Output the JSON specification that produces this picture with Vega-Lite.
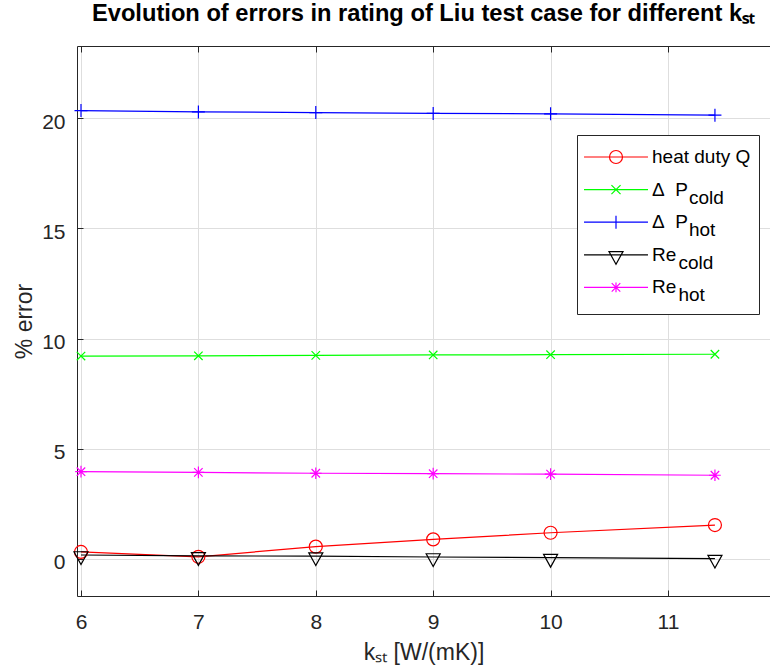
{
  "$schema": "https://vega.github.io/schema/vega-lite/v6.json",
  "width": 693,
  "height": 550,
  "autosize": {"type": "none"},
  "padding": {"left": 77, "top": 46, "right": 0, "bottom": 75},
  "background": "white",
  "title": {
    "text": "Evolution of errors in rating of Liu test case for different kₛₜ",
    "font": "Liberation Sans",
    "fontSize": 23.7,
    "fontWeight": "bold",
    "color": "#000000",
    "anchor": "middle",
    "baseline": "alphabetic",
    "offset": 1
  },
  "config": {
    "view": {"stroke": null},
    "axis": {
      "labelFont": "Liberation Sans",
      "labelFontSize": 21,
      "labelColor": "#262626",
      "titleFont": "Liberation Sans",
      "titleFontSize": 23,
      "titleFontWeight": "normal",
      "titleColor": "#262626",
      "domainColor": "#262626",
      "domainWidth": 1,
      "tickColor": "#262626",
      "tickWidth": 1,
      "tickSize": -6,
      "gridColor": "#dedede",
      "gridWidth": 1
    }
  },
  "data": {
    "values": [
      {"k": 6, "error": 0.32, "series": "heat duty Q"},
      {"k": 7, "error": 0.10, "series": "heat duty Q"},
      {"k": 8, "error": 0.56, "series": "heat duty Q"},
      {"k": 9, "error": 0.89, "series": "heat duty Q"},
      {"k": 10, "error": 1.19, "series": "heat duty Q"},
      {"k": 11.4, "error": 1.54, "series": "heat duty Q"},
      {"k": 6, "error": 9.21, "series": "Δ P cold"},
      {"k": 7, "error": 9.22, "series": "Δ P cold"},
      {"k": 8, "error": 9.24, "series": "Δ P cold"},
      {"k": 9, "error": 9.26, "series": "Δ P cold"},
      {"k": 10, "error": 9.27, "series": "Δ P cold"},
      {"k": 11.4, "error": 9.29, "series": "Δ P cold"},
      {"k": 6, "error": 20.35, "series": "Δ P hot"},
      {"k": 7, "error": 20.29, "series": "Δ P hot"},
      {"k": 8, "error": 20.26, "series": "Δ P hot"},
      {"k": 9, "error": 20.22, "series": "Δ P hot"},
      {"k": 10, "error": 20.2, "series": "Δ P hot"},
      {"k": 11.4, "error": 20.14, "series": "Δ P hot"},
      {"k": 6, "error": 0.18, "series": "Re cold"},
      {"k": 7, "error": 0.14, "series": "Re cold"},
      {"k": 8, "error": 0.13, "series": "Re cold"},
      {"k": 9, "error": 0.09, "series": "Re cold"},
      {"k": 10, "error": 0.06, "series": "Re cold"},
      {"k": 11.4, "error": 0.02, "series": "Re cold"},
      {"k": 6, "error": 3.96, "series": "Re hot"},
      {"k": 7, "error": 3.93, "series": "Re hot"},
      {"k": 8, "error": 3.89, "series": "Re hot"},
      {"k": 9, "error": 3.87, "series": "Re hot"},
      {"k": 10, "error": 3.85, "series": "Re hot"},
      {"k": 11.4, "error": 3.8, "series": "Re hot"}
    ]
  },
  "encoding": {
    "y": {
      "field": "error",
      "type": "quantitative",
      "scale": {"domain": [-1.68, 23.28], "nice": false, "zero": false},
      "axis": {
        "title": "% error",
        "values": [0, 5, 10, 15, 20],
        "format": "d",
        "grid": true,
        "labelPadding": 18,
        "labelOffset": 4,
        "titlePadding": 5
      }
    },
    "color": {
      "field": "series",
      "type": "nominal",
      "scale": {
        "domain": ["heat duty Q", "Δ P cold", "Δ P hot", "Re cold", "Re hot"],
        "range": ["#ff0000", "#00ff00", "#0000ff", "#000000", "#ff00ff"]
      },
      "legend": {
        "orient": "none",
        "legendX": 500,
        "legendY": 89,
        "title": null,
        "padding": 8,
        "strokeColor": "#262626",
        "fillColor": "#ffffff",
        "symbolSize": 676,
        "symbolOffset": 17,
        "symbolStrokeWidth": 1.2,
        "labelOffset": 22,
        "rowPadding": 0.6,
        "labelFont": "Liberation Sans",
        "labelFontSize": 19,
        "labelColor": "#000000",
        "labelLimit": 0,
        "labelExpr": "datum.value === 'heat duty Q' ? ['heat duty Q', '\u200b'] : datum.value === 'Δ P cold' ? ['Δ\u00a0\u00a0P', '\u200b\u00a0\u00a0\u00a0\u00a0\u00a0\u00a0\u00a0cold'] : datum.value === 'Δ P hot' ? ['Δ\u00a0\u00a0P', '\u200b\u00a0\u00a0\u00a0\u00a0\u00a0\u00a0\u00a0hot'] : datum.value === 'Re cold' ? ['Re', '\u200b\u00a0\u00a0\u00a0\u00a0\u00a0cold'] : ['Re', '\u200b\u00a0\u00a0\u00a0\u00a0\u00a0hot']",
        "encode": {
          "symbols": {
            "update": {
              "shape": {"signal": "datum.value === 'heat duty Q' ? 'M-2.46,0H2.46M-0.5,0A0.5,0.5,0,1,1,0.5,0A0.5,0.5,0,1,1,-0.5,0' : datum.value === 'Δ P cold' ? 'M-2.46,0H2.46M-0.35,-0.35L0.35,0.35M-0.35,0.35L0.35,-0.35' : datum.value === 'Δ P hot' ? 'M-2.46,0H2.46M0,-0.5V0.5' : datum.value === 'Re cold' ? 'M-2.46,0H2.46M-0.54,-0.25H0.54L0,0.73Z' : 'M-2.46,0H2.46M0,-0.38V0.38M-0.33,-0.33L0.33,0.33M-0.33,0.33L0.33,-0.33'"},
              "fill": {"value": "transparent"},
              "strokeWidth": {"value": 1.2},
              "opacity": {"value": 1}
            }
          },
          "labels": {
            "update": {"lineHeight": {"value": 8}}
          }
        }
      }
    }
  },
  "layer": [
    {
      "mark": {"type": "line", "strokeWidth": 1.2},
      "encoding": {
        "x": {
          "field": "k",
          "type": "quantitative",
          "scale": {"domain": [5.966, 11.869], "nice": false, "zero": false},
          "axis": {
            "orient": "bottom",
            "title": "kₛₜ [W/(mK)]",
            "values": [6, 7, 8, 9, 10, 11],
            "format": "d",
            "grid": true,
            "labelPadding": 21.5,
            "titlePadding": 9
          }
        }
      }
    },
    {
      "transform": [{"filter": "datum.series === 'heat duty Q'"}],
      "mark": {"type": "point", "shape": "M-1,0A1,1,0,1,1,1,0A1,1,0,1,1,-1,0", "filled": false, "size": 169, "strokeWidth": 1.2, "opacity": 1},
      "encoding": {
        "x": {
          "field": "k",
          "type": "quantitative",
          "axis": {
            "orient": "top",
            "title": null,
            "values": [6, 7, 8, 9, 10, 11],
            "labels": false,
            "grid": false
          }
        }
      }
    },
    {
      "transform": [{"filter": "datum.series === 'Δ P cold'"}],
      "mark": {"type": "point", "shape": "M-0.65,-0.65L0.65,0.65M-0.65,0.65L0.65,-0.65", "filled": false, "size": 169, "strokeWidth": 1.2, "opacity": 1},
      "encoding": {"x": {"field": "k", "type": "quantitative", "axis": null}}
    },
    {
      "transform": [{"filter": "datum.series === 'Δ P hot'"}],
      "mark": {"type": "point", "shape": "M-1,0H1M0,-1V1", "filled": false, "size": 169, "strokeWidth": 1.2, "opacity": 1},
      "encoding": {"x": {"field": "k", "type": "quantitative", "axis": null}}
    },
    {
      "transform": [{"filter": "datum.series === 'Re cold'"}],
      "mark": {"type": "point", "shape": "M-1.08,-0.5H1.08L0,1.46Z", "filled": false, "size": 169, "strokeWidth": 1.2, "opacity": 1},
      "encoding": {"x": {"field": "k", "type": "quantitative", "axis": null}}
    },
    {
      "transform": [{"filter": "datum.series === 'Re hot'"}],
      "mark": {"type": "point", "shape": "M-0.9,0H0.9M0,-0.9V0.9M-0.65,-0.65L0.65,0.65M-0.65,0.65L0.65,-0.65", "filled": false, "size": 169, "strokeWidth": 1.2, "opacity": 1},
      "encoding": {"x": {"field": "k", "type": "quantitative", "axis": null}}
    }
  ],
  "resolve": {"axis": {"x": "independent"}}
}
